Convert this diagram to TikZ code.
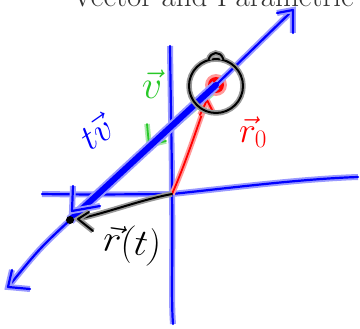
\RequirePackage{fix-cm}
\documentclass[tikz,border=0pt]{standalone}
\usetikzlibrary{calc}
\definecolor{penGreen}{RGB}{40,200,40}

\begin{document}
\begin{tikzpicture}[
  x=1pt, y=-1pt,
  pen/.style={line cap=round, line join=round},
  bluepen/.style={pen, draw=blue, line width=2.2pt, preaction={draw=blue!40, line width=6pt}},
  bluethick/.style={pen, draw=blue, line width=6pt, preaction={draw=blue!40, line width=10pt}},
  redpen/.style={pen, draw=red, line width=1.8pt, preaction={draw=red!40, line width=5.5pt}},
  greenpen/.style={pen, draw=penGreen, line width=1.8pt, preaction={draw=penGreen!40, line width=5.5pt}},
  blackpen/.style={pen, draw=black, line width=2pt, preaction={draw=black!40, line width=5.5pt}},
  hand/.style={inner sep=0pt, font=\fontsize{36}{36}\selectfont}
]
  \useasboundingbox (0,0) rectangle (360,329);

  % title, cut off by the page edge
  \node[anchor=base east, inner sep=0pt, text=black!80, font=\fontsize{31}{31}\selectfont] (title) at (354,7) {Vector and Parametric};

  % points
  \coordinate (O) at (172,194);
  \coordinate (P0) at (216,85);
  \coordinate (Pt) at (70,220);
  \coordinate (top) at (293,10);
  \coordinate (bot) at (8,287);
  \coordinate (G) at (149,146);
  \coordinate (R) at (207,100);
  \coordinate (xl) at (42,194);
  \coordinate (xr) at (358,177);
  \coordinate (yt) at (170,46);
  \coordinate (yb) at (173,324);

  % axes
  \draw[bluepen] (xl) .. controls (100,195) and (150,194) .. (O) .. controls (230,188) and (300,179) .. (xr);
  \draw[bluepen] (yt) .. controls (171,120) and (172,160) .. (O) .. controls (173,250) and (171,300) .. (yb);

  % v
  \draw[greenpen] ($(P0)+(-2,7)$) -- ($(G)+(1,1)$);
  \draw[greenpen] (147,124) -- (149,145) -- (166,141);

  % r_0
  \draw[redpen] (O) .. controls (185,165) and (198,125) .. (R);
  \draw[redpen] (200,115) -- (R) -- (214,114);
  \fill[red!40] (P0) circle (11);
  \fill[red] (P0) circle (8);

  % the line
  \draw[bluepen] (top) -- (P0);
  \draw[bluepen] (Pt) .. controls (40,248) .. (bot);
  \draw[bluethick] (P0) -- (Pt);
  \draw[bluepen] (277,13) -- (top) -- (293,33);
  \draw[bluepen] (12,270) -- (bot) -- (30,289);
  \draw[bluepen] (73,186) -- (72,211) -- (100,206);

  % r(t)
  \draw[blackpen] (O) .. controls (140,200) and (110,212) .. (78,219);
  \draw[blackpen] (89,212) -- (78,219) -- (93,231);
  \fill[black] (Pt) circle (4);

  % ring round r_0
  \node[circle, blackpen, minimum size=54pt, inner sep=0pt] (ring) at (216,86) {};
  \draw[blackpen] (ring.105) .. controls (211,52) and (220,50) .. (ring.75);

  % labels
  \node[hand, text=penGreen, font=\fontsize{40}{40}\selectfont] (lv) at (152,84) {$\vec v$};
  \node[hand, text=blue, rotate=35] (ltv) at (96,132) {$t\vec v$};
  \node[hand, text=red] (lr0) at (253,132) {$\vec r_0$};
  \node[hand, text=black, rotate=-8, font=\fontsize{38}{38}\selectfont] (lrt) at (132,245) {$\vec r(t)$};
\end{tikzpicture}
\end{document}
